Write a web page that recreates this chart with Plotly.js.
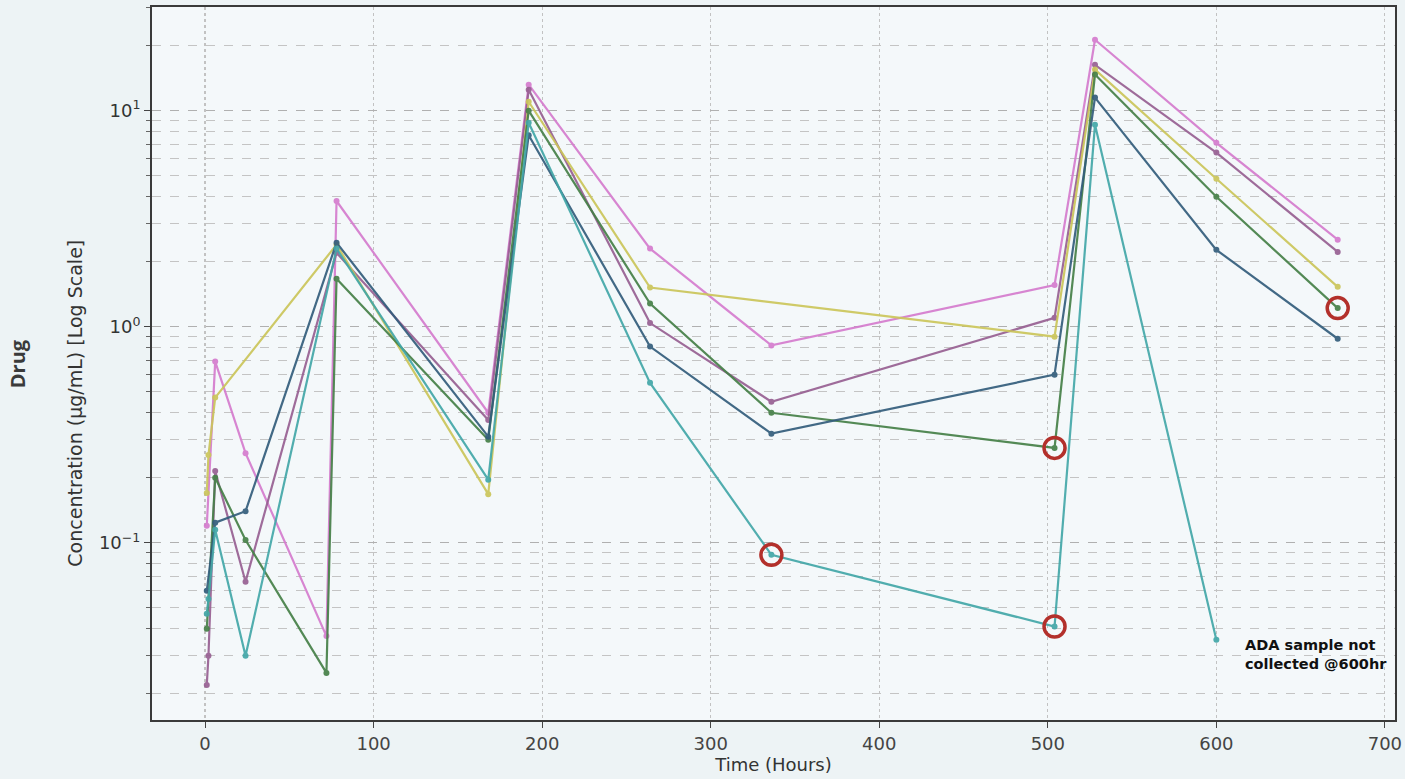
<!DOCTYPE html>
<html>
<head>
<meta charset="utf-8">
<script src="https://cdn.plot.ly/plotly-3.0.1.min.js"></script>
<style>html,body{margin:0;padding:0;background:#edf3f5;}#chart{width:1405px;height:779px;}</style>
</head>
<body>
<div id="chart"></div>
<script>
// ---- data (time in hours, concentration in µg/mL) ----
const pinkT   = [1, 6, 24, 72, 78, 168, 192, 264, 336, 504, 528, 600, 672];
const pinkC   = [0.12, 0.69, 0.26, 0.037, 3.82, 0.40, 13.2, 2.3, 0.82, 1.56, 21.3, 7.1, 2.53];

const purpleT = [1, 2, 6, 24, 78, 168, 192, 264, 336, 504, 528, 600, 672];
const purpleC = [0.022, 0.030, 0.215, 0.066, 2.2, 0.37, 12.5, 1.04, 0.45, 1.1, 16.3, 6.4, 2.22];

const yellowT = [1, 2, 6, 78, 168, 192, 264, 504, 528, 600, 672];
const yellowC = [0.17, 0.255, 0.47, 2.4, 0.168, 11, 1.52, 0.9, 15.5, 4.84, 1.53];

const greenT  = [1, 6, 24, 72, 78, 168, 192, 264, 336, 504, 528, 600, 672];
const greenC  = [0.04, 0.20, 0.103, 0.025, 1.67, 0.30, 10, 1.28, 0.40, 0.275, 14.7, 4.0, 1.22];

const slateT  = [1, 6, 24, 78, 168, 192, 264, 336, 504, 528, 600, 672];
const slateC  = [0.06, 0.124, 0.14, 2.45, 0.31, 7.7, 0.81, 0.32, 0.6, 11.5, 2.27, 0.88];

const tealT   = [1, 2, 6, 24, 78, 168, 192, 264, 336, 504, 528, 600];
const tealC   = [0.047, 0.055, 0.115, 0.030, 2.3, 0.196, 8.8, 0.55, 0.088, 0.041, 8.6, 0.0356];

// ADA-flagged (circled) samples: [series, time]
const flagged = [["teal", 336], ["green", 504], ["teal", 504], ["green", 672]];

const xTickVals = [0, 100, 200, 300, 400, 500, 600, 700];
const yTickVals = [0.1, 1, 10];
const yTickText = ["10<sup>−1</sup>", "10<sup>0</sup>", "10<sup>1</sup>"];

const series = {
  pink:   {t: pinkT,   c: pinkC,   color: "#d57cce"},
  purple: {t: purpleT, c: purpleC, color: "#976092"},
  yellow: {t: yellowT, c: yellowC, color: "#cbc65a"},
  green:  {t: greenT,  c: greenC,  color: "#468048"},
  slate:  {t: slateT,  c: slateC,  color: "#335d7c"},
  teal:   {t: tealT,   c: tealC,   color: "#43a7a8"}
};

const traces = Object.keys(series).map(k => ({
  type: "scatter", mode: "lines+markers", name: k,
  x: series[k].t, y: series[k].c,
  line: {color: series[k].color, width: 2.2},
  marker: {color: series[k].color, size: 6},
  opacity: 0.92
}));

const fx = flagged.map(f => f[1]);
const fy = flagged.map(f => series[f[0]].c[series[f[0]].t.indexOf(f[1])]);
traces.push({
  type: "scatter", mode: "markers", x: fx, y: fy, hoverinfo: "skip",
  marker: {symbol: "circle-open", size: 21, color: "#b3302b", line: {width: 3.5, color: "#b3302b"}}
});

const DJ = "'DejaVu Sans', sans-serif";
const layout = {
  width: 1405, height: 779,
  margin: {l: 152, r: 10, t: 7, b: 59},
  paper_bgcolor: "#edf3f5", plot_bgcolor: "#f4f8fa",
  showlegend: false,
  font: {family: DJ, color: "#3a3a3a"},
  xaxis: {
    range: [-31.5, 706], tickvals: xTickVals, ticks: "outside", ticklen: 6,
    tickcolor: "#444", tickfont: {size: 18, color: "#444", family: DJ},
    showgrid: true, gridcolor: "#c2c2c2", griddash: "dot", gridwidth: 1.2,
    zeroline: false, showline: true, linecolor: "#3a3a3a", linewidth: 2, mirror: true,
    title: {text: "Time (Hours)", font: {size: 18, color: "#333", family: DJ}, standoff: 4}
  },
  yaxis: {
    type: "log", range: [-1.82, 1.48], tickvals: yTickVals, ticktext: yTickText,
    ticks: "outside", ticklen: 6, tickcolor: "#444", tickfont: {size: 18, color: "#333", family: DJ},
    showgrid: true, gridcolor: "#b0b0b0", griddash: "dash", gridwidth: 1,
    minor: {dtick: "D1", showgrid: true, gridcolor: "#c4c4c4", griddash: "dash", ticks: "outside", ticklen: 4, tickcolor: "#666"},
    zeroline: false, showline: true, linecolor: "#3a3a3a", linewidth: 2, mirror: true
  },
  annotations: [
    {xref: "paper", yref: "paper", x: -0.108, xanchor: "center", y: 0.50, yanchor: "middle",
     text: "<b>Drug</b>", textangle: -90,
     showarrow: false, font: {size: 20, color: "#3a3a3a", family: "'Open Sans', sans-serif"}},
    {xref: "paper", yref: "paper", x: -0.062, xanchor: "center", y: 0.445, yanchor: "middle",
     text: "Concentration (µg/mL) [Log Scale]", textangle: -90,
     showarrow: false, font: {size: 19, color: "#333", family: DJ}},
    {xref: "x", yref: "y", x: 616, y: Math.log10(0.0305), xanchor: "left", yanchor: "middle", align: "left",
     text: "<b>ADA sample not<br>collected @600hr</b>", showarrow: false,
     font: {size: 14.5, color: "#111", family: DJ}}
  ]
};

Plotly.newPlot("chart", traces, layout, {displayModeBar: false, staticPlot: true});
</script>
</body>
</html>
